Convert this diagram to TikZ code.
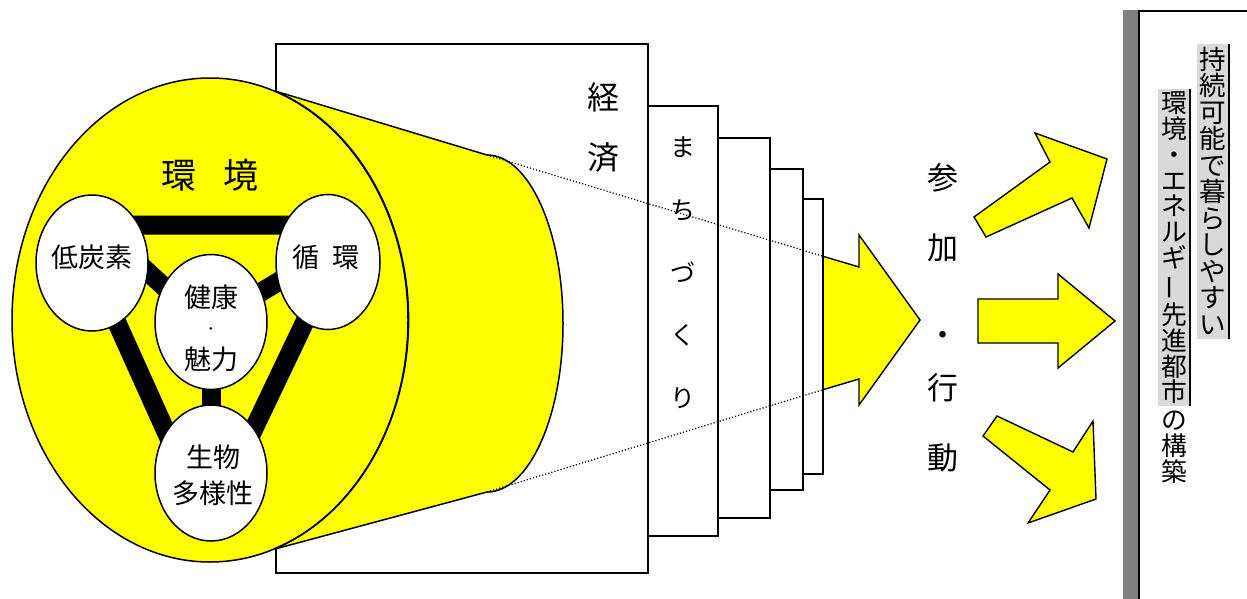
\documentclass[tikz,border=0pt]{standalone}
\usepackage{fontspec}
\setmainfont{Noto Sans CJK JP}
\usetikzlibrary{shapes.geometric,calc}
\definecolor{ylw}{HTML}{FFFF00}
\definecolor{hl}{HTML}{D9D9D9}
\definecolor{bargray}{HTML}{808080}
\newcommand\cj[1]{\makebox[1em]{\rule[-0.12em]{0pt}{1em}#1}}
\newcommand\vbar{\rotatebox[origin=c]{90}{ー}}
\tikzset{
  bx/.style={draw=black,line width=1.6pt,fill=white,inner sep=0pt,anchor=north west},
  bar/.style={line width=19pt,black,line join=round},
  circ/.style={ellipse,draw=black,line width=1.5pt,fill=white,inner sep=0pt},
  yarrow/.style={fill=ylw,draw=black,line width=1.4pt,line join=miter},
  lbl/.style={inner sep=0pt,align=center},
  dots/.style={dotted,line width=1.2pt},
  frline/.style={draw=black,line width=1.5pt},
  vcol/.style={inner sep=0pt,align=center},
}
\begin{document}
\begin{tikzpicture}[x=1pt,y=-1pt]
\useasboundingbox (0,0) rectangle (1247,599);
% economy box
\node[bx,minimum width=372pt,minimum height=529pt] (keizai) at (275,43) {};
% frustum
\coordinate (ft) at (487,155);
\coordinate (fb) at (487,492);
\coordinate (fc) at (210,320);
\fill[ylw] (fc) ellipse (198pt and 242pt);
\fill[ylw] (275,91) -- (ft) arc[start angle=90,end angle=-90,x radius=76pt,y radius=168.5pt] -- (275,549) -- cycle;
\draw[frline] (275,91) -- (ft) arc[start angle=90,end angle=-90,x radius=76pt,y radius=168.5pt] -- (275,549);
\draw[frline] (fc) ellipse (198pt and 242pt);
\draw[frline] (275,91) arc[start angle=71,end angle=-71,x radius=198pt,y radius=242pt];
% triangle bars
\coordinate (tA) at (73,225);
\coordinate (tB) at (351,225);
\coordinate (tC) at (208,525);
\draw[bar] (tA) -- (tB) -- (tC) -- cycle;
% ellipse nodes (positions)
\path (92,263) coordinate (pT) (328,262) coordinate (pJ) (211,322) coordinate (pK) (211,473) coordinate (pS);
\draw[bar] ($(pK)+(0,8)$) -- ($(pT)+(8,-35)$);
\draw[bar] (pK) -- ($(pJ)+(0,-10)$);
\draw[bar] (pK) -- (pS);
\node[circ,minimum width=112pt,minimum height=136pt] (teitanso) at (pT) {};
\node[circ,minimum width=104pt,minimum height=135pt] (junkan) at (pJ) {};
\node[circ,minimum width=112pt,minimum height=135pt] (kenko) at (pK) {};
\node[circ,minimum width=112pt,minimum height=136pt] (seibutsu) at (pS) {};
% labels in the cylinder
\node[lbl,font=\fontsize{35}{35}\selectfont] (kankyo) at (210,175) {環\hspace{27pt}境};
\node[lbl,font=\fontsize{27}{27}\selectfont] (tlab) at ($(teitanso.center)+(0,-6)$) {低炭素};
\node[lbl,font=\fontsize{27}{27}\selectfont] (jlab) at ($(junkan.center)+(-2,-5)$) {循\hspace{14pt}環};
\node[lbl,font=\fontsize{27}{31}\selectfont] (klab) at ($(kenko.center)+(0,6.5)$) {\cj{健}\cj{康}\\{\raisebox{5pt}{\scalebox{0.45}{・}}}\\\cj{魅}\cj{力}};
\node[lbl,font=\fontsize{27}{36}\selectfont] (slab) at ($(seibutsu.center)+(2,2)$) {\cj{生}\cj{物}\\\cj{多}\cj{様}\cj{性}};
% big arrow
\coordinate (aU) at (822,256);
\coordinate (aL) at (822,390);
\fill[ylw] (aU) -- (859,267) -- (859,235) -- (920,320) -- (859,405) -- (859,379) -- (aL) -- cycle;
\draw[yarrow,fill=none] (aU) -- (859,267) -- (859,235) -- (920,320) -- (859,405) -- (859,379) -- (aL);
% machizukuri boxes
\node[bx,minimum width=20pt,minimum height=275pt] (box4) at (802,198) {};
\node[bx,minimum width=33pt,minimum height=321pt] (box3) at (769,168) {};
\node[bx,minimum width=52pt,minimum height=380pt] (box2) at (717,137) {};
\node[bx,minimum width=70pt,minimum height=430pt] (box1) at (647,105) {};
% dotted lines
\draw[dots] (ft) -- (aU);
\draw[dots] (fb) -- (aL);
% texts
\node[vcol,font=\fontsize{32}{60}\selectfont] (ktxt) at (603,127) {\cj{経}\\\cj{済}};
\node[vcol,font=\fontsize{25}{62.75}\selectfont] (mtxt) at (683,272.5) {\cj{ま}\\\cj{ち}\\\cj{づ}\\\cj{く}\\\cj{り}};
\node[vcol,font=\fontsize{31}{70}\selectfont] (stxt) at (943,317.5) {\cj{参}\\\cj{加}\\{\raisebox{-17pt}{\cj{・}}}\\\cj{行}\\\cj{動}};
% small arrows
\draw[yarrow] (986,237) -- (974,217) -- (1050,162) -- (1035,133) -- (1107,159) -- (1089,228) -- (1072,198) -- cycle;
\draw[yarrow] (978,299) -- (1058,299) -- (1058,274) -- (1115,321) -- (1058,368) -- (1058,343) -- (978,343) -- cycle;
\draw[yarrow] (997,416) -- (1073,452) -- (1093,421) -- (1096,499) -- (1028,523) -- (1050,490) -- (983,436) -- cycle;
% right panel
\fill[bargray] (1123,10) rectangle (1138,600);
\draw[line width=1.6pt] (1139,600) -- (1139,11) -- (1248,11);
\node[vcol,fill=hl,inner xsep=2.75pt,inner ysep=1.75pt,font=\fontsize{26.5}{26.5}\selectfont] (col1) at (1213,191.5)
 {\cj{持}\\\cj{続}\\\cj{可}\\\cj{能}\\\cj{で}\\\cj{暮}\\\cj{ら}\\\cj{し}\\\cj{や}\\\cj{す}\\\cj{い}};
\draw[line width=2pt] (col1.north east) -- (col1.south east);
\node[vcol,fill=hl,inner xsep=3pt,inner ysep=0.8pt,font=\fontsize{25.8}{25.8}\selectfont] (col2) at (1174,247.5)
 {\cj{環}\\\cj{境}\\\cj{・}\\\cj{エ}\\\cj{ネ}\\\cj{ル}\\\cj{ギ}\\\cj{\vbar}\\\cj{先}\\\cj{進}\\\cj{都}\\\cj{市}};
\draw[line width=2pt] (col2.north east) -- (col2.south east);
\node[vcol,anchor=north,font=\fontsize{25.8}{25.8}\selectfont] (col3) at ($(col2.south)+(0,1)$)
 {\cj{の}\\\cj{構}\\\cj{築}};
\end{tikzpicture}
\end{document}
